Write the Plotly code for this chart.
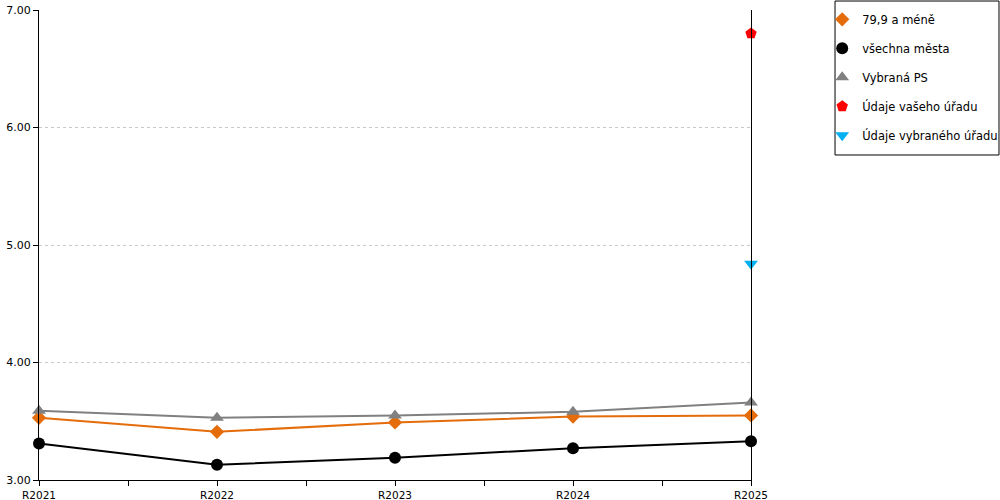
import plotly.graph_objects as go

years = ['R2021', 'R2022', 'R2023', 'R2024', 'R2025']

# series values
mala_mesta = [3.53, 3.41, 3.49, 3.54, 3.55]      # 79,9 a méně
vsechna_mesta = [3.31, 3.13, 3.19, 3.27, 3.33]
vybrana_ps = [3.59, 3.53, 3.55, 3.58, 3.66]
vas_urad = [6.80]
vybrany_urad = [4.84]

y_ticks = [3.0, 4.0, 5.0, 6.0, 7.0]

x_idx = list(range(len(years)))
last = [x_idx[-1]]

series = [
    ('79,9 a méně', mala_mesta, '#E46C0A', 'diamond', 11),
    ('všechna města', vsechna_mesta, '#000000', 'circle', 12),
    ('Vybraná PS', vybrana_ps, '#808080', 'triangle-up', 12),
]

fig = go.Figure()

# lines first (no legend), then marker-only traces carry the legend entries
for name, vals, color, symbol, size in series:
    fig.add_trace(go.Scatter(
        x=x_idx, y=vals, mode='lines', showlegend=False, cliponaxis=False,
        line={'color': color, 'width': 2}, hoverinfo='skip'))

for i, (name, vals, color, symbol, size) in enumerate(series):
    fig.add_trace(go.Scatter(
        x=x_idx, y=vals, mode='markers', name=name, legendgroup=str(i),
        cliponaxis=False,
        marker={'color': color, 'symbol': symbol, 'size': size}))

fig.add_trace(go.Scatter(
    x=last, y=vas_urad, mode='markers', name='Údaje vašeho úřadu', legendgroup='3',
    cliponaxis=False,
    marker={'color': '#FF0000', 'symbol': 'pentagon', 'size': 12}))
fig.add_trace(go.Scatter(
    x=last, y=vybrany_urad, mode='markers', name='Údaje vybraného úřadu', legendgroup='4',
    cliponaxis=False,
    marker={'color': '#00B0F0', 'symbol': 'triangle-down', 'size': 12}))

fig.update_xaxes(
    range=[0, len(years) - 1], tickvals=x_idx, ticktext=years, automargin=False,
    showgrid=False, zeroline=False, showline=True, linecolor='black', linewidth=1,
    ticks='outside', ticklen=5, tickcolor='black', tickfont={'size': 10.5},
    minor={'dtick': 0.5, 'tick0': 0, 'ticks': 'outside', 'ticklen': 5, 'tickcolor': 'black'})

fig.update_yaxes(
    range=[3.0, 7.0], tickvals=y_ticks, tickformat='.2f', automargin=False,
    showgrid=True, gridcolor='#C8C8C8', griddash='dot', gridwidth=1,
    zeroline=False, showline=True, linecolor='black', linewidth=1, mirror=True,
    ticks='outside', ticklen=5, tickcolor='black')

# legend frame drawn separately so it can be wider than plotly's own box
fig.add_shape(type='rect', xref='paper', yref='paper',
              x0=1.118, x1=1.3483, y0=0.6915, y1=1.0191,
              line={'color': 'black', 'width': 1}, fillcolor='rgba(0,0,0,0)')

fig.update_layout(
    width=1000, height=500,
    margin={'l': 39, 'r': 249, 't': 10, 'b': 20, 'autoexpand': False},
    plot_bgcolor='white', paper_bgcolor='white',
    font={'family': 'Verdana, DejaVu Sans, sans-serif', 'size': 11, 'color': 'black'},
    legend={'x': 1.1, 'y': 1.011, 'xanchor': 'left', 'yanchor': 'top',
            'bgcolor': 'rgba(0,0,0,0)', 'borderwidth': 0, 'traceorder': 'grouped',
            'tracegroupgap': 10, 'font': {'size': 11.5}, 'itemwidth': 30},
    showlegend=True)

# page body has a default 8px margin; drop it so the figure fills the window
fig.write_html("out.html", config={'displayModeBar': False},
               post_script="document.body.style.margin='0';")
